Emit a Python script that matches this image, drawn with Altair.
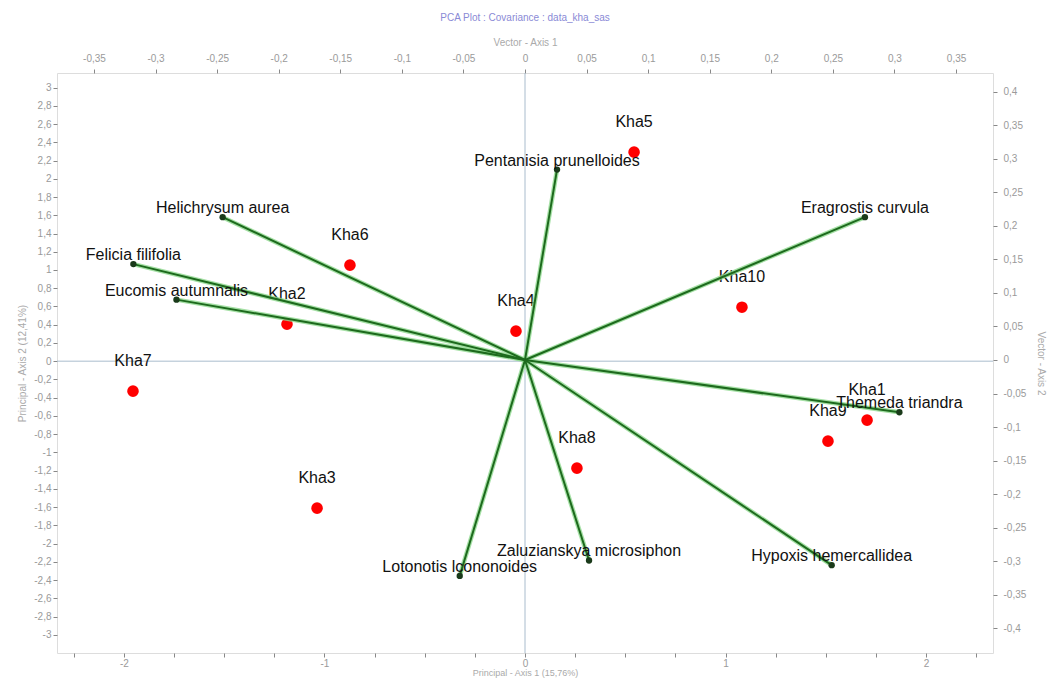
import altair as alt
import pandas as pd

# ---- observations (principal coordinates: bottom / left axes)
obs_names = ["Kha1", "Kha2", "Kha3", "Kha4", "Kha5", "Kha6", "Kha7", "Kha8", "Kha9", "Kha10"]
obs_x = [1.706, -1.187, -1.037, -0.045, 0.544, -0.873, -1.955, 0.259, 1.511, 1.082]
obs_y = [-0.647, 0.406, -1.612, 0.329, 2.292, 1.053, -0.329, -1.173, -0.877, 0.592]

# ---- variables (vector coordinates: top / right axes)
var_names = ["Pentanisia prunelloides", "Helichrysum aurea", "Felicia filifolia",
             "Eucomis autumnalis", "Eragrostis curvula", "Themeda triandra",
             "Hypoxis hemercallidea", "Zaluzianskya microsiphon", "Lotonotis lcononoides"]
var_x = [0.026, -0.2455, -0.318, -0.283, 0.276, 0.304, 0.249, 0.052, -0.053]
var_y = [0.284, 0.213, 0.143, 0.090, 0.213, -0.078, -0.306, -0.299, -0.322]

# ---- tick values
bottom_ticks = [-2.25, -2, -1.75, -1.5, -1.25, -1, -0.75, -0.5, -0.25, 0,
                0.25, 0.5, 0.75, 1, 1.25, 1.5, 1.75, 2, 2.25]
left_ticks = [-3, -2.8, -2.6, -2.4, -2.2, -2, -1.8, -1.6, -1.4, -1.2, -1, -0.8, -0.6,
              -0.4, -0.2, 0, 0.2, 0.4, 0.6, 0.8, 1, 1.2, 1.4, 1.6, 1.8, 2, 2.2,
              2.4, 2.6, 2.8, 3]
top_ticks = [-0.35, -0.3, -0.25, -0.2, -0.15, -0.1, -0.05, 0, 0.05, 0.1, 0.15,
             0.2, 0.25, 0.3, 0.35]
right_ticks = [-0.4, -0.35, -0.3, -0.25, -0.2, -0.15, -0.1, -0.05, 0, 0.05, 0.1,
               0.15, 0.2, 0.25, 0.3, 0.35, 0.4]

obs = pd.DataFrame({"name": obs_names, "px": obs_x, "py": obs_y})
var = pd.DataFrame({"name": var_names, "vx": var_x, "vy": var_y,
                    "ox": [0.0] * len(var_names), "oy": [0.0] * len(var_names)})
zero_x = pd.DataFrame({"px": [0.0]})
zero_y = pd.DataFrame({"py": [0.0]})

FONT = "Liberation Sans"
LBL = "#9a9a9a"
comma = "replace('' + datum.value, '.', ',')"

axis_common = dict(labelFont=FONT, labelFontSize=10, labelColor=LBL, tickColor="#888",
                   tickSize=4, domain=False, grid=False, titleFont=FONT,
                   titleFontSize=10, titleColor="#aaaaaa", titleFontWeight="normal")

X_p = alt.X("px:Q", scale=alt.Scale(domain=[-2.334, 2.334], nice=False, zero=False),
            axis=alt.Axis(orient="bottom", values=bottom_ticks,
                          labelExpr="abs(datum.value - round(datum.value)) < 0.001 ? '' + round(datum.value) : ''",
                          title="Principal - Axis 1 (15,76%)", labelPadding=1, titlePadding=0,
                          **{**axis_common, "titleFontSize": 9}))
Y_p = alt.Y("py:Q", scale=alt.Scale(domain=[-3.2, 3.16], nice=False, zero=False),
            axis=alt.Axis(orient="left", values=left_ticks, labelExpr=comma,
                          title="Principal - Axis 2 (12,41%)", titlePadding=6, **axis_common))
X_v = alt.X("vx:Q", scale=alt.Scale(domain=[-0.38, 0.38], nice=False, zero=False),
            axis=alt.Axis(orient="top", values=top_ticks, labelExpr=comma,
                          title="Vector - Axis 1", labelPadding=6, titlePadding=6,
                          **axis_common))
Y_v = alt.Y("vy:Q", scale=alt.Scale(domain=[-0.437, 0.428], nice=False, zero=False),
            axis=alt.Axis(orient="right", values=right_ticks, labelExpr=comma,
                          title="Vector - Axis 2", labelPadding=6, titlePadding=10,
                          **axis_common))

# primary layer
vline = alt.Chart(zero_x).mark_rule(color="#a9bccd", strokeWidth=1).encode(x=X_p)
hline = alt.Chart(zero_y).mark_rule(color="#a9bccd", strokeWidth=1).encode(y=Y_p)
pts = alt.Chart(obs).mark_circle(color="#ff0000", opacity=1, size=135).encode(x=X_p, y=Y_p)
pt_lbl = alt.Chart(obs).mark_text(font=FONT, fontSize=16, color="#111", dy=-30,
                                  baseline="middle").encode(x=X_p, y=Y_p, text="name:N")
primary = alt.layer(vline, hline, pts, pt_lbl)

# vector layer
halo = alt.Chart(var).mark_rule(color="#8fd88f", strokeWidth=4.5, opacity=0.8).encode(
    x=X_v, x2="ox", y=Y_v, y2="oy")
arrow = alt.Chart(var).mark_rule(color="#1d6a1d", strokeWidth=2).encode(
    x=X_v, x2="ox", y=Y_v, y2="oy")
tips = alt.Chart(var).mark_circle(color="#1a3a1a", opacity=1, size=40).encode(x=X_v, y=Y_v)
v_lbl = alt.Chart(var).mark_text(font=FONT, fontSize=16, color="#111", dy=-9,
                                 baseline="middle").encode(x=X_v, y=Y_v, text="name:N")
vector = alt.layer(halo, arrow, tips, v_lbl)

chart = alt.layer(primary, vector).resolve_scale(x="independent", y="independent").properties(
    width=936, height=580,
    autosize=alt.AutoSizeParams(type="none"),
    padding={"left": 49, "top": 65, "right": 58, "bottom": 26},
    title=alt.TitleParams("PCA Plot : Covariance : data_kha_sas", font=FONT, fontSize=10,
                          color="#8a8ad6", fontWeight="normal", offset=14),
).configure_view(stroke="#505050", strokeWidth=3, cornerRadius=5).configure(background="white")

chart.save("out.html", embed_options={"renderer": "svg", "actions": False})
